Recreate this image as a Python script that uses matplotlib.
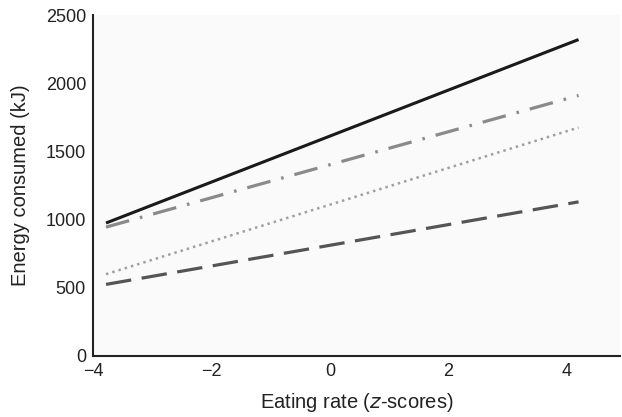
import matplotlib
matplotlib.use("Agg")
import matplotlib.pyplot as plt

plt.rcParams['font.family'] = ['Liberation Sans', 'DejaVu Sans']

x_ends = [-3.78, 4.2]
solid = [975, 2320]
dashdot = [945, 1910]
dotted = [600, 1675]
dashed = [525, 1130]

fig = plt.figure(figsize=(6.22, 4.17), dpi=100)
ax = fig.add_axes([93/622, 1 - 356/417, (620-93)/622, (356-15)/417])
ax.set_facecolor('#fafafa')

ax.plot(x_ends, solid, color='#1a1a1a', lw=2.2, solid_capstyle='butt')
ax.plot(x_ends, dashdot, color='#8a8a8a', lw=2.3, dashes=(7.5, 3.5, 0.8, 3.5))
ax.plot(x_ends, dotted, color='#a0a0a0', lw=1.8, dashes=(1.0, 1.6))
ax.plot(x_ends, dashed, color='#555555', lw=2.3, dashes=(8, 3.3))

ax.set_xlim(-4, 4.9)
ax.set_ylim(0, 2500)
ax.set_xticks([-4, -2, 0, 2, 4])
ax.set_xticklabels(['\u22124', '\u22122', '0', '2', '4'])
ax.set_yticks([0, 500, 1000, 1500, 2000, 2500])
ax.tick_params(length=0, labelsize=13, pad=5, colors='#222222')
for s in ['top', 'right']:
    ax.spines[s].set_visible(False)
for s in ['left', 'bottom']:
    ax.spines[s].set_linewidth(1.5)
    ax.spines[s].set_color('#222222')

ax.set_xlabel('Eating rate ($\\it{z}$-scores)', fontsize=14.5, labelpad=8, color='#222222')
ax.set_ylabel('Energy consumed (kJ)', fontsize=14.5, labelpad=11, color='#222222')

fig.savefig('out.png', dpi=100, facecolor='white')
